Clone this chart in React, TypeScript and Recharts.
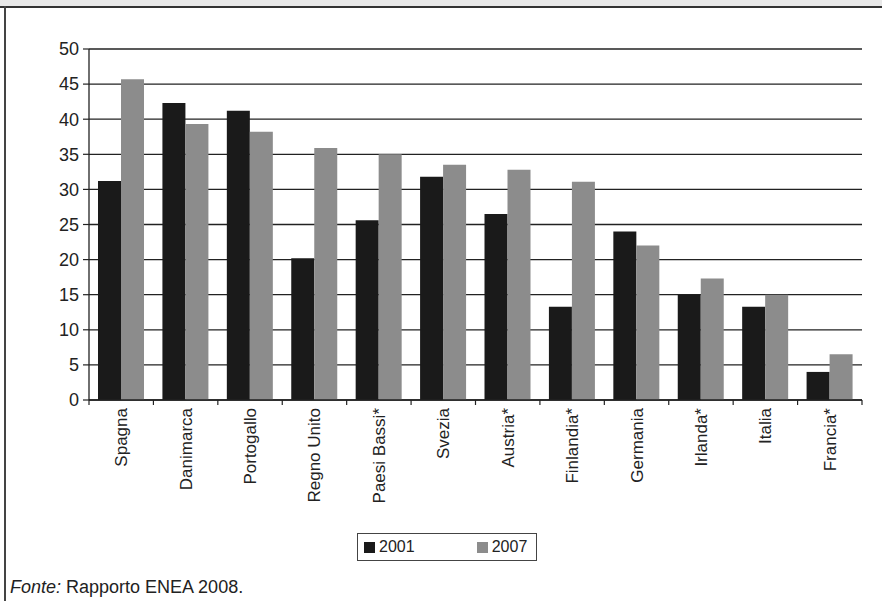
import React from "react";
import { BarChart, Bar, XAxis, YAxis, CartesianGrid, Legend } from "recharts";

const countries = [
  "Spagna", "Danimarca", "Portogallo", "Regno Unito", "Paesi Bassi*", "Svezia",
  "Austria*", "Finlandia*", "Germania", "Irlanda*", "Italia", "Francia*",
];
const values2001 = [31.2, 42.3, 41.2, 20.2, 25.6, 31.8, 26.5, 13.3, 24.0, 15.0, 13.3, 4.0];
const values2007 = [45.7, 39.3, 38.2, 35.9, 35.0, 33.5, 32.8, 31.1, 22.0, 17.3, 15.0, 6.5];
const yTicks = [0, 5, 10, 15, 20, 25, 30, 35, 40, 45, 50];

const data = countries.map((name, i) => ({ name, y2001: values2001[i], y2007: values2007[i] }));

const FONT = "'Liberation Sans', Arial, sans-serif";
const INK = "#222";
const PLOT_LEFT = 89;
const PLOT_RIGHT = 862;
const BAND = (PLOT_RIGHT - PLOT_LEFT) / countries.length;

const CountryTick = (props: any) => {
  const { x, y, payload, index } = props;
  const half = BAND / 2;
  return (
    <g>
      <line x1={x - half} y1={y} x2={x - half} y2={y + 5} stroke={INK} strokeWidth={1.2} />
      {index === countries.length - 1 && (
        <line x1={x + half} y1={y} x2={x + half} y2={y + 5} stroke={INK} strokeWidth={1.2} />
      )}
      <text
        x={0}
        y={0}
        transform={`translate(${x + 6},${y + 8}) rotate(-90)`}
        textAnchor="end"
        fontSize={17}
        fill={INK}
        fontFamily={FONT}
      >
        {payload.value}
      </text>
    </g>
  );
};

const LegendBox = (props: any) => {
  const items = props.payload || [];
  return (
    <div
      style={{
        width: 180,
        height: 28,
        border: "1px solid #444",
        display: "flex",
        alignItems: "center",
        fontFamily: FONT,
        fontSize: 16,
        color: INK,
        boxSizing: "border-box",
      }}
    >
      {items.map((it: any, i: number) => (
        <div key={i} style={{ display: "flex", alignItems: "center", marginLeft: i === 0 ? 6 : 0, width: i === 0 ? 114 : 60 }}>
          <span style={{ display: "inline-block", width: 11, height: 11, background: it.color, marginRight: 4 }} />
          <span>{it.value}</span>
        </div>
      ))}
    </div>
  );
};

export default function App() {
  return (
    <div style={{ position: "absolute", left: 0, top: 0, width: 882, height: 601, background: "#fff", overflow: "hidden" }}>
      <div style={{ position: "absolute", left: 0, top: 0, width: 882, height: 6, background: "#e8e8e8", borderBottom: "2px solid #333" }} />
      <div style={{ position: "absolute", left: 4, top: 6, width: 2, height: 595, background: "#444" }} />
      <BarChart
        width={882}
        height={601}
        data={data}
        margin={{ top: 49, right: 20, left: 0, bottom: 91 }}
        barGap={0}
        barSize={23}
      >
        <CartesianGrid yAxisId="left" vertical={false} stroke={INK} strokeWidth={1.3} strokeOpacity={1} />
        <XAxis
          dataKey="name"
          height={110}
          interval={0}
          tick={<CountryTick />}
          tickLine={false}
          tickSize={0}
          tickMargin={0}
          axisLine={{ stroke: INK, strokeWidth: 1.3 }}
        />
        <YAxis
          yAxisId="left"
          width={89}
          domain={[0, 50]}
          ticks={yTicks}
          interval={0}
          tickSize={6}
          tickMargin={4}
          axisLine={{ stroke: INK, strokeWidth: 1.3 }}
          tickLine={{ stroke: INK, strokeWidth: 1.2 }}
          tick={{ fontSize: 18, fill: INK, fontFamily: FONT }}
        />
        <YAxis
          yAxisId="right"
          orientation="right"
          width={0}
          domain={[0, 50]}
          tick={false}
          tickLine={false}
          axisLine={{ stroke: INK, strokeWidth: 1.3 }}
        />
        <Legend
          layout="vertical"
          verticalAlign="middle"
          align="center"
          content={<LegendBox />}
          wrapperStyle={{ left: 357, top: 533, width: 180 }}
        />
        <Bar yAxisId="left" dataKey="y2001" name="2001" fill="#1a1a1a" isAnimationActive={false} />
        <Bar yAxisId="left" dataKey="y2007" name="2007" fill="#8c8c8c" isAnimationActive={false} />
      </BarChart>
      <div style={{ position: "absolute", left: 10, top: 577, fontFamily: FONT, fontSize: 18, color: INK }}>
        <i>Fonte:</i> Rapporto ENEA 2008.
      </div>
    </div>
  );
}
